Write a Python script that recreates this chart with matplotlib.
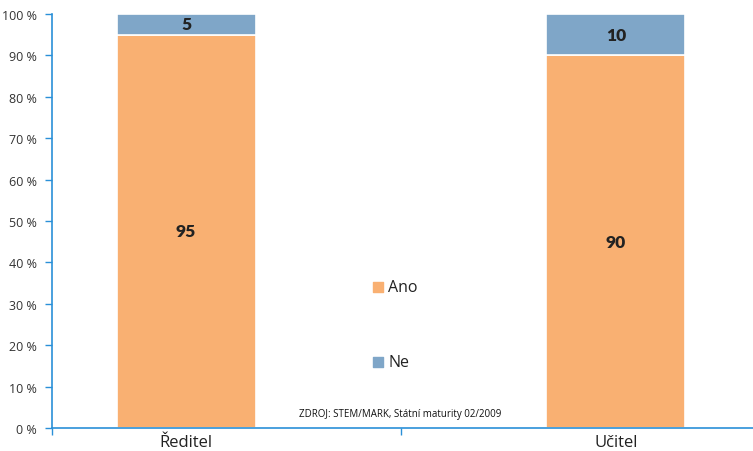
import matplotlib
matplotlib.use("Agg")
import matplotlib.pyplot as plt
import numpy as np

plt.rcParams['font.family'] = ['Open Sans', 'DejaVu Sans']

categories = ["Ředitel", "Učitel"]
ano = [95, 90]
ne = [5, 10]
yticks = [0, 10, 20, 30, 40, 50, 60, 70, 80, 90, 100]
source = "ZDROJ: STEM/MARK, Státní maturity 02/2009"

c_ano = "#F9B072"
c_ne = "#7FA6C8"
c_axis = "#2a90d8"

fig = plt.figure(figsize=(7.53, 4.52), dpi=100)
ax = fig.add_axes([52/753, 23/452, 1 - 52/753, (429-15)/452])

x = np.arange(len(categories))
w = 0.323
ax.bar(x, ano, width=w, color=c_ano, edgecolor="white", linewidth=1.2, label="Ano")
ax.bar(x, ne, width=w, bottom=ano, color=c_ne, edgecolor="white", linewidth=1.2, label="Ne")

numfont = dict(ha="center", va="center", fontsize=12.5, fontweight="heavy",
               color="#222222", family=["Lato", "DejaVu Sans"])
for i in range(len(categories)):
    ax.text(x[i], ano[i] / 2, str(ano[i]), **numfont)
    ax.text(x[i], ano[i] + ne[i] / 2, str(ne[i]), **numfont)

ax.set_xlim(-0.312, 1.319)
ax.set_ylim(0, 100)
ax.set_yticks(yticks)
ax.set_yticklabels([f"{t} %" for t in yticks], fontsize=9, color="#333333")
ax.set_xticks([-0.312, 0.5])
ax.set_xticklabels([])
ax.set_xticks(x, minor=True)
ax.set_xticklabels(categories, minor=True, fontsize=12, color="#222222")
ax.tick_params(axis="x", which="minor", length=0, pad=4)
ax.tick_params(axis="x", which="major", length=5, color=c_axis, width=1)
ax.tick_params(axis="y", length=5, color=c_axis, width=1, pad=6)

for s in ["top", "right"]:
    ax.spines[s].set_visible(False)
ax.spines["left"].set_color(c_axis)
ax.spines["bottom"].set_color(c_axis)
ax.spines["left"].set_linewidth(1.2)
ax.spines["bottom"].set_linewidth(1.2)

# legend
ax.scatter([0.447], [34.0], marker="s", s=45, color=c_ano, clip_on=False)
ax.text(0.470, 34.0, "Ano", va="center", ha="left", fontsize=11.5, color="#222222")
ax.scatter([0.447], [15.9], marker="s", s=45, color=c_ne, clip_on=False)
ax.text(0.470, 15.9, "Ne", va="center", ha="left", fontsize=11.5, color="#222222")

ax.text(0.497, 3.6, source, ha="center", va="center", fontsize=7, color="#111111")

fig.savefig("out.png", dpi=100)
